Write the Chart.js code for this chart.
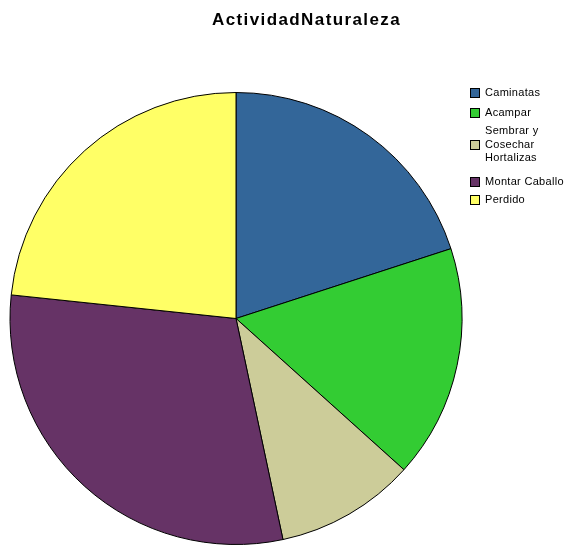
<!DOCTYPE html>
<html>
<head>
<meta charset="utf-8">
<script src="https://cdn.jsdelivr.net/npm/chart.js@4/dist/chart.umd.min.js"></script>
<style>
  html, body { margin: 0; padding: 0; background: #fff; }
  #wrap { position: relative; width: 576px; height: 545px; overflow: hidden; }
  #pie { position: absolute; left: 0; top: 0; }
  #title { position: absolute; left: 212px; top: 10px; font: bold 17px "Liberation Sans", Arial, sans-serif;
           letter-spacing: 1.4px; color: #000; white-space: nowrap; }
  #legend { position: absolute; left: 470px; top: 0; width: 106px; height: 220px; font: 11px "Liberation Sans", Arial, sans-serif;
            letter-spacing: 0.3px; color: #000; }
  .box { position: absolute; left: 0; width: 8px; height: 8px; border: 1px solid #000; box-sizing: content-box; }
  .txt { position: absolute; left: 15px; line-height: 13.5px; white-space: nowrap; }
</style>
</head>
<body>
<div id="wrap">
  <canvas id="pie" width="576" height="545"></canvas>
  <div id="title">ActividadNaturaleza</div>
  <div id="legend"></div>
</div>
<script>
// Categories and their counts, drawn clockwise from 12 o'clock
const categories = ["Caminatas", "Acampar", "Sembrar y Cosechar Hortalizas", "Montar Caballo", "Perdido"];
const counts = [12, 10, 6, 18, 14];
const legendLines = [["Caminatas"], ["Acampar"], ["Sembrar y", "Cosechar", "Hortalizas"], ["Montar Caballo"], ["Perdido"]];
const sliceColors = ["#336699", "#33CC33", "#CCCC99", "#663366", "#FFFF66"];

new Chart(document.getElementById("pie"), {
  type: "pie",
  data: {
    labels: categories,
    datasets: [{
      data: counts,
      backgroundColor: sliceColors,
      borderColor: "#000",
      borderWidth: 1
    }]
  },
  options: {
    responsive: false,
    animation: false,
    radius: 226,
    layout: { padding: { left: 0, right: 104, top: 92, bottom: 0 } },
    plugins: { legend: { display: false }, title: { display: false }, tooltip: { enabled: false } }
  }
});

// Legend entries: box rows and text blocks
const boxTops = [88, 108, 140, 177, 195];
const textTops = [86, 106, 124, 175, 193];
const legend = document.getElementById("legend");
categories.forEach((c, i) => {
  const box = document.createElement("div");
  box.className = "box";
  box.style.top = boxTops[i] + "px";
  box.style.background = sliceColors[i];
  legend.appendChild(box);
  const t = document.createElement("div");
  t.className = "txt";
  t.style.top = textTops[i] + "px";
  t.innerHTML = legendLines[i].join("<br>");
  legend.appendChild(t);
});
</script>
</body>
</html>
